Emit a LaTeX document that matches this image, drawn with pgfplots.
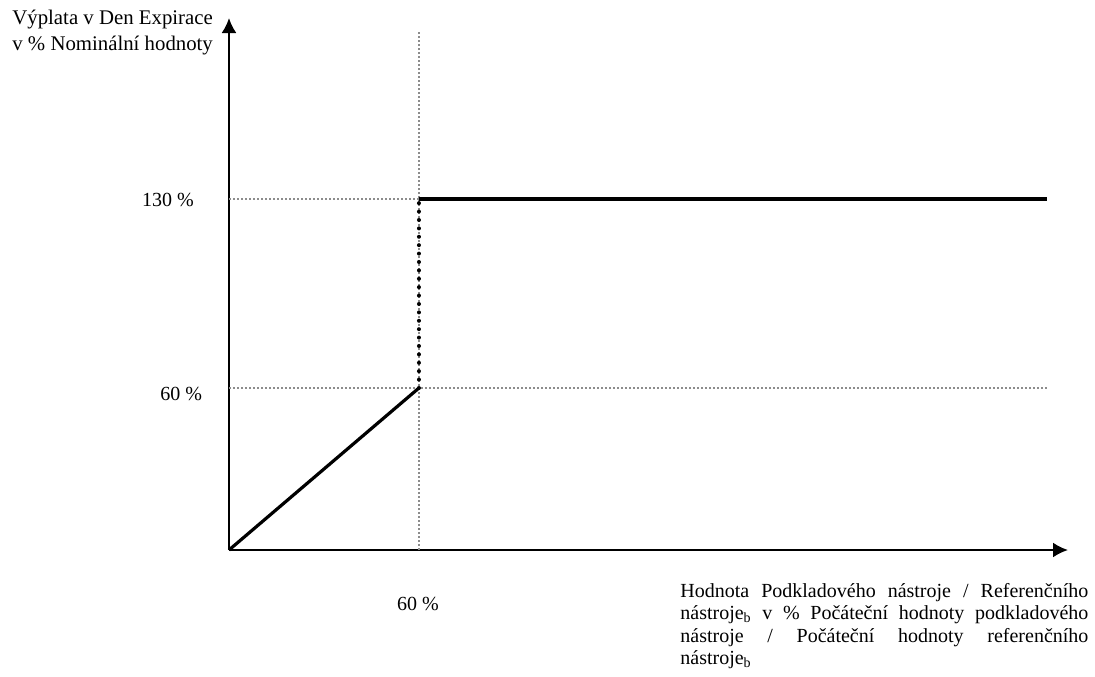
\documentclass[border=0pt]{standalone}
\usepackage{fontspec}
\setmainfont{Liberation Serif}
\usepackage{pgfplots}
\pgfplotsset{compat=1.18}
\usetikzlibrary{arrows.meta}
\begin{document}
\begin{tikzpicture}
\begin{axis}[
  at={(0pt,0pt)}, anchor=south west, scale only axis,
  width=419.5pt, height=266pt,
  xmin=0, xmax=265, ymin=0, ymax=197,
  enlargelimits=false,
  axis lines=left,
  axis line style={line width=1.1pt, -{Latex[length=7.5pt,width=7.5pt]}},
  xtick=\empty, ytick=\empty,
  clip=false,
]
% grey guide lines
\addplot[black!45, line width=0.8pt, dash pattern=on 0.8pt off 1.2pt] coordinates {(0,130) (60,130)};
\addplot[black!45, line width=0.8pt, dash pattern=on 0.8pt off 1.2pt] coordinates {(0,60) (258.4,60)};
\addplot[black!45, line width=0.8pt, dash pattern=on 0.8pt off 1.2pt] coordinates {(60,0) (60,192)};
% payoff
\addplot[black, line width=1.6pt] coordinates {(0,0) (60,60)};
\addplot[black, line width=2pt, line cap=round, dash pattern=on 0pt off 4.2pt] coordinates {(60,60) (60,130)};
\addplot[black, line width=1.6pt] coordinates {(60,130) (258.4,130)};
\end{axis}
\node[anchor=base west, inner sep=0pt, font=\fontsize{10}{12}\selectfont] at (-43.65pt,171.65pt) {130 \%};
\node[anchor=base west, inner sep=0pt, font=\fontsize{10}{12}\selectfont] at (-34.5pt,75pt) {60 \%};
\node[anchor=base west, inner sep=0pt, font=\fontsize{10}{12}\selectfont] at (83.85pt,-30.35pt) {60 \%};
\node[anchor=base west, inner sep=0pt, font=\fontsize{10.4}{12.5}\selectfont] at (-108.5pt,262.5pt) {Výplata v Den Expirace};
\node[anchor=base west, inner sep=0pt, font=\fontsize{10.4}{12.5}\selectfont] at (-108.5pt,250pt) {v \% Nominální hodnoty};
\node[anchor=base west, inner sep=0pt] at (225.5pt,-23.5pt) {\fontsize{10}{11.3}\selectfont\parbox[t]{204pt}{\tolerance=9999\hbadness=10000\rightskip=0pt Hodnota Podkladového nástroje / Referenčního\linebreak nástroje\textsubscript{b} v \% Počáteční hodnoty podkladového\linebreak nástroje / Počáteční hodnoty referenčního\linebreak nástroje\textsubscript{b}}};
\pgfresetboundingbox
\path[use as bounding box] (-114.5pt,-63pt) rectangle (433pt,275pt);
\end{tikzpicture}
\end{document}
